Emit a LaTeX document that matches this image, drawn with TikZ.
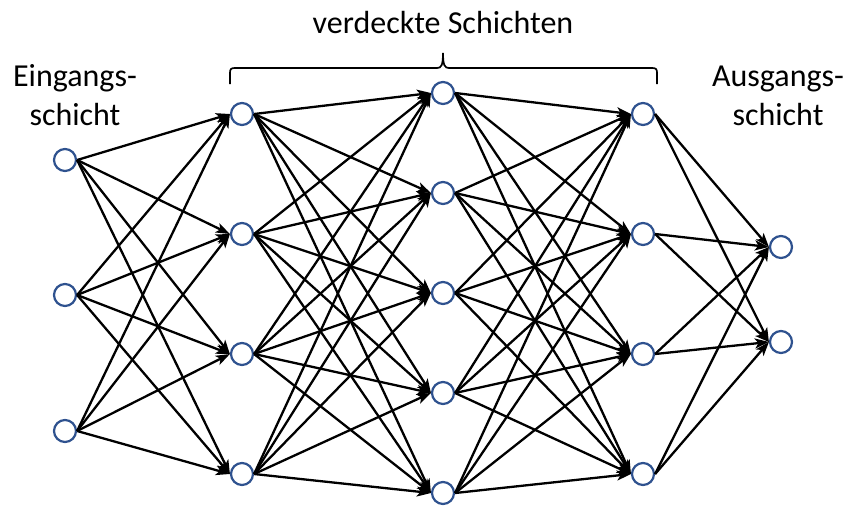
\documentclass[tikz,border=0pt]{standalone}
\usepackage{fontspec}
\setmainfont{Carlito}
\usetikzlibrary{arrows.meta}
\definecolor{neuron}{HTML}{2F528F}
\tikzset{
  neuronnode/.style={circle, draw=neuron, line width=2.2pt, fill=white, minimum size=22pt, inner sep=0pt},
  link/.style={line width=2.3pt, -{Stealth[length=14pt,width=10pt,inset=3.5pt]}},
  layertext/.style={font=\fontsize{32}{39}\selectfont, align=center, anchor=base, inner sep=0pt},
  brace/.style={line width=1.7pt}
}
\begin{document}
\begin{tikzpicture}[x=1pt,y=-1pt]
\useasboundingbox (0,0) rectangle (850,506);

% neurons of each layer
\foreach \y [count=\i] in {160,295,431} \node[neuronnode] (in\i) at (65,\y) {};
\foreach \y [count=\i] in {114,234,354,474} \node[neuronnode] (ha\i) at (242,\y) {};
\foreach \y [count=\i] in {93,193,293,393,493} \node[neuronnode] (hb\i) at (443,\y) {};
\foreach \y [count=\i] in {114,234,354,474} \node[neuronnode] (hc\i) at (643,\y) {};
\foreach \y [count=\i] in {247,342} \node[neuronnode] (out\i) at (781,\y) {};

% fully connected weights between neighbouring layers
\foreach \a in {1,...,3} \foreach \b in {1,...,4} \draw[link] (in\a.east) -- (ha\b.west);
\foreach \a in {1,...,4} \foreach \b in {1,...,5} \draw[link] (ha\a.east) -- (hb\b.west);
\foreach \a in {1,...,5} \foreach \b in {1,...,4} \draw[link] (hb\a.east) -- (hc\b.west);
\foreach \a in {1,...,4} \foreach \b in {1,...,2} \draw[link] (hc\a.east) -- (out\b.west);

% brace over the hidden layers
\coordinate (bl) at (230,84);
\coordinate (br) at (657,84);
\coordinate (btip) at (443,53);
\draw[brace] (bl) -- (230,73) .. controls (230,69) and (231,68) .. (235,68) -- (437,68)
  .. controls (441,68) and (443,66) .. (btip)
  .. controls (443,66) and (445,68) .. (449,68) -- (652,68)
  .. controls (656,68) and (657,69) .. (657,73) -- (br);

% labels (anchor base sits on the last line)
\node[layertext] (lin) at (75,125) {Eingangs-\\schicht};
\node[layertext] (lhid) at (443,33) {verdeckte Schichten};
\node[layertext] (lout) at (778,125) {Ausgangs-\\schicht};
\end{tikzpicture}
\end{document}
